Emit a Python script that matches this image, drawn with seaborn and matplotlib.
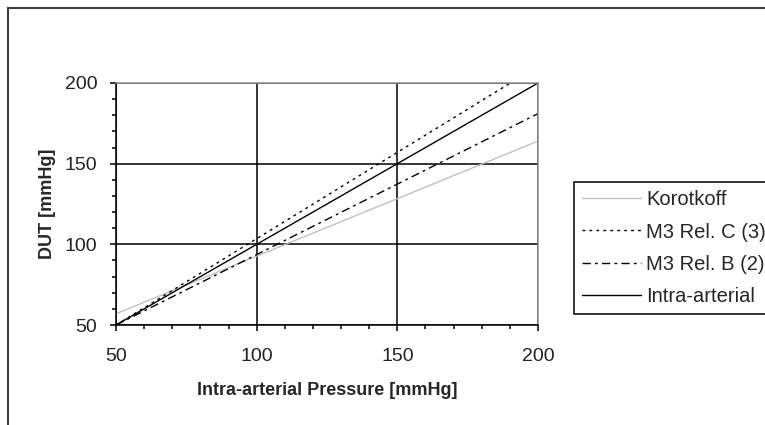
import numpy as np
import pandas as pd
import matplotlib
matplotlib.use('Agg')
import matplotlib.pyplot as plt
import seaborn as sns
from matplotlib.ticker import MultipleLocator
from matplotlib.patches import Rectangle

# Regression lines (end points at 50 and 200 mmHg)
pressure = [50, 200]
korotkoff = [57, 164]
m3_rel_c = [50, 210.5]
m3_rel_b = [50, 181]
intra_arterial = [50, 200]

series_names = ['Korotkoff', 'M3 Rel. C (3)', 'M3 Rel. B (2)', 'Intra-arterial']
series_values = [korotkoff, m3_rel_c, m3_rel_b, intra_arterial]

sns.set_style('white')
plt.rcParams['font.family'] = ['Liberation Sans', 'DejaVu Sans']

fig = plt.figure(figsize=(7.65, 4.25), dpi=100)
ax = fig.add_axes([116 / 765, 1 - 325 / 425, (538 - 116) / 765, (325 - 83) / 425])

styles = {
    'Korotkoff': dict(color='#c0c0c0', linestyle='-'),
    'M3 Rel. C (3)': dict(color='black', linestyle=(0, (2, 3))),
    'M3 Rel. B (2)': dict(color='black', linestyle=(0, (6, 3, 2, 3))),
    'Intra-arterial': dict(color='black', linestyle='-'),
}

for name, vals in zip(series_names, series_values):
    sns.lineplot(x=pressure, y=vals, ax=ax, label=name, linewidth=1.0,
                 **styles[name])

ax.set_xlim(50, 200)
ax.set_ylim(50, 200)
ax.xaxis.set_major_locator(MultipleLocator(50))
ax.yaxis.set_major_locator(MultipleLocator(50))
ax.xaxis.set_minor_locator(MultipleLocator(10))
ax.yaxis.set_minor_locator(MultipleLocator(10))
ax.grid(True, which='major', color='black', linewidth=1.1)
ax.set_axisbelow(True)

ax.tick_params(which='major', direction='out', length=4.5, width=1.1,
               color='black', labelsize=14, pad=9, bottom=True, left=True)
ax.tick_params(axis='x', which='major', pad=12)
ax.tick_params(which='minor', direction='out', length=3, width=1.1,
               color='black', bottom=True, left=True)
ax.tick_params(labelcolor='#222222')

for side in ['left', 'bottom']:
    ax.spines[side].set_color('black')
    ax.spines[side].set_linewidth(1.1)
for side in ['top', 'right']:
    ax.spines[side].set_color('#909090')
    ax.spines[side].set_linewidth(1.1)

ax.set_xlabel('Intra-arterial Pressure [mmHg]', fontsize=13, fontweight='bold',
              labelpad=12)
ax.set_ylabel('DUT [mmHg]', fontsize=13, fontweight='bold', labelpad=6)

ax.legend(loc='upper left', bbox_to_anchor=(574 / 765, 1 - 182 / 425),
          bbox_transform=fig.transFigure, fontsize=14.5, frameon=True,
          fancybox=False, edgecolor='black', framealpha=1,
          handlelength=2.9, handletextpad=0.25, labelspacing=0.65,
          borderpad=0.42, borderaxespad=0)
ax.get_legend().get_frame().set_linewidth(1.1)

# outer chart border (cut off at right and bottom)
fig.patches.append(Rectangle((8 / 765, -0.1), 1.1, 1.1 - 8 / 425, fill=False,
                             edgecolor='#404040', linewidth=1.5,
                             transform=fig.transFigure, figure=fig))

fig.savefig('out.png', dpi=100)
